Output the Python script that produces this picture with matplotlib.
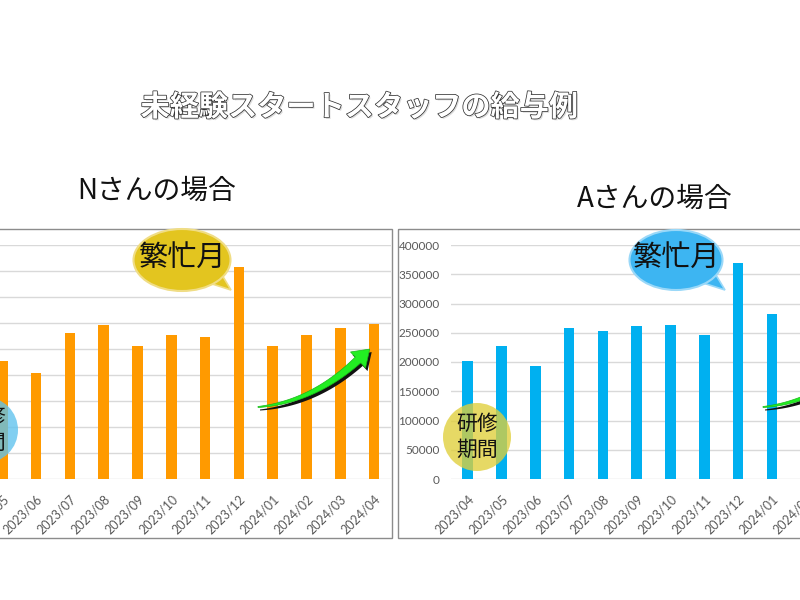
import numpy as np
import matplotlib
matplotlib.use('Agg')
import matplotlib.pyplot as plt
import matplotlib.patheffects as pe
from matplotlib.patches import Ellipse, Circle, Polygon, Rectangle

plt.rcParams['font.family'] = ['Noto Sans CJK JP', 'DejaVu Sans']

months = ['2023/04', '2023/05', '2023/06', '2023/07', '2023/08', '2023/09', '2023/10',
          '2023/11', '2023/12', '2024/01', '2024/02', '2024/03', '2024/04']
# Nさん (2023/04 is cut off in the picture)
salary_n = [np.nan, 226000, 204000, 280000, 297000, 256000, 276000,
            273000, 408000, 256000, 276000, 291000, 298000]
# Aさん (2024/02 onward is cut off in the picture)
salary_a = [202000, 227000, 194000, 258000, 253500, 261500, 264000,
            246000, 370000, 281500, np.nan, np.nan, np.nan]
yticks_n = list(range(0, 450001, 50000))
yticks_a = list(range(0, 400001, 50000))

W, H = 800, 600
fig = plt.figure(figsize=(8, 6), dpi=100)


def make_panel(left_px, values, yticks, color):
    step = 33.8
    ax = fig.add_axes([left_px / W, (H - 479) / H, 13 * step / W, 234 / H])
    x = np.arange(len(months))
    ax.bar(x, values, width=0.31, color=color, zorder=3)
    ax.set_xlim(-0.5, len(months) - 0.5)
    ax.set_ylim(0, yticks[-1])
    ax.set_yticks(yticks)
    ax.set_yticklabels([str(v) for v in yticks])
    ax.set_xticks(x)
    ax.set_xticklabels(months, rotation=45, ha='right', rotation_mode='anchor')
    ax.yaxis.grid(True, color='#D9D9D9', lw=1, zorder=0)
    ax.set_axisbelow(True)
    for s in ax.spines.values():
        s.set_visible(False)
    ax.tick_params(length=0, colors='#595959', labelsize=8.5)
    ax.tick_params(axis='y', pad=8)
    ax.tick_params(axis='x', pad=10, labelsize=9)
    for lab in ax.get_xticklabels() + ax.get_yticklabels():
        lab.set_family(['Lato', 'DejaVu Sans'])
    ax.patch.set_alpha(0)
    return ax


ax_n = make_panel(-48.4, salary_n, yticks_n, '#FF9A00')
ax_a = make_panel(450.8, salary_a, yticks_a, '#00B0F0')

# overlay in pixel coordinates for decorations
ov = fig.add_axes([0, 0, 1, 1], zorder=10)
ov.set_xlim(0, W)
ov.set_ylim(H, 0)
ov.axis('off')

ov.add_patch(Rectangle((-5, 229), 397, 309, fill=False, ec='#8C8C8C', lw=1))
ov.add_patch(Rectangle((398, 229), 410, 309, fill=False, ec='#8C8C8C', lw=1))

ov.text(359, 107, '未経験スタートスタッフの給与例', fontsize=21, color='white',
        ha='center', va='center', fontweight='bold',
        path_effects=[pe.withSimplePatchShadow(offset=(1.2, -1.2), shadow_rgbFace='#BBBBBB', alpha=0.5),
                      pe.Stroke(linewidth=1.1, foreground='#333333'), pe.Normal()])
ov.text(157, 191, 'Nさんの場合', fontsize=20, color='#111111', ha='center', va='center')
ov.text(655, 199, 'Aさんの場合', fontsize=20, color='#111111', ha='center', va='center')


def bubble(cx, cy, w, h, color, edge):
    ov.add_patch(Polygon([(cx + 24, cy + 22), (cx + 49, cy + 30), (cx + 40, cy + 15)],
                         closed=True, fc=color, ec=edge, lw=1.2))
    ov.add_patch(Ellipse((cx, cy), w, h, fc=color, ec=edge, lw=1.5))
    ov.text(cx, cy - 2, '繁忙月', fontsize=21, color='#111111', ha='center', va='center')


bubble(182, 260, 97, 62, '#E3C51F', '#F0DD85')
bubble(676, 260, 93, 60, '#3DB5F2', '#9AD8F8')


def study_circle(cx, cy, r, color):
    ov.add_patch(Circle((cx, cy), r, fc=color, ec='none', alpha=0.78))
    ov.text(cx, cy, '研修\n期間', fontsize=15, color='#111111', ha='center', va='center',
            linespacing=1.2)


study_circle(477, 437, 34, '#E0CF3A')
study_circle(-15, 430, 33, '#5EC2EE')


def swoosh(x0, y0):
    p0 = np.array([x0, y0], float)
    p1 = np.array([x0 + 55, y0 - 5], float)
    p2 = np.array([x0 + 100, y0 - 47], float)
    t = np.linspace(0, 1, 40)[:, None]
    b = (1 - t) ** 2 * p0 + 2 * (1 - t) * t * p1 + t ** 2 * p2
    d = 2 * (1 - t) * (p1 - p0) + 2 * t * (p2 - p1)
    d = d / np.linalg.norm(d, axis=1, keepdims=True)
    n = np.column_stack([-d[:, 1], d[:, 0]])
    hw = (1 + 7 * t) / 2
    upper = b + n * hw
    lower = b - n * hw
    tip = p2 + d[-1] * 16
    head = [p2 + n[-1] * 11, tip, p2 - n[-1] * 11]
    pts = np.vstack([upper, head, lower[::-1]])
    ov.add_patch(Polygon(pts + [2, 3], closed=True, fc='#111111', ec='none'))
    ov.add_patch(Polygon(pts, closed=True, fc='#22EE22', ec='#18B818', lw=0.5))


swoosh(258, 407)
swoosh(763, 407)

fig.savefig('out.png', dpi=100)
